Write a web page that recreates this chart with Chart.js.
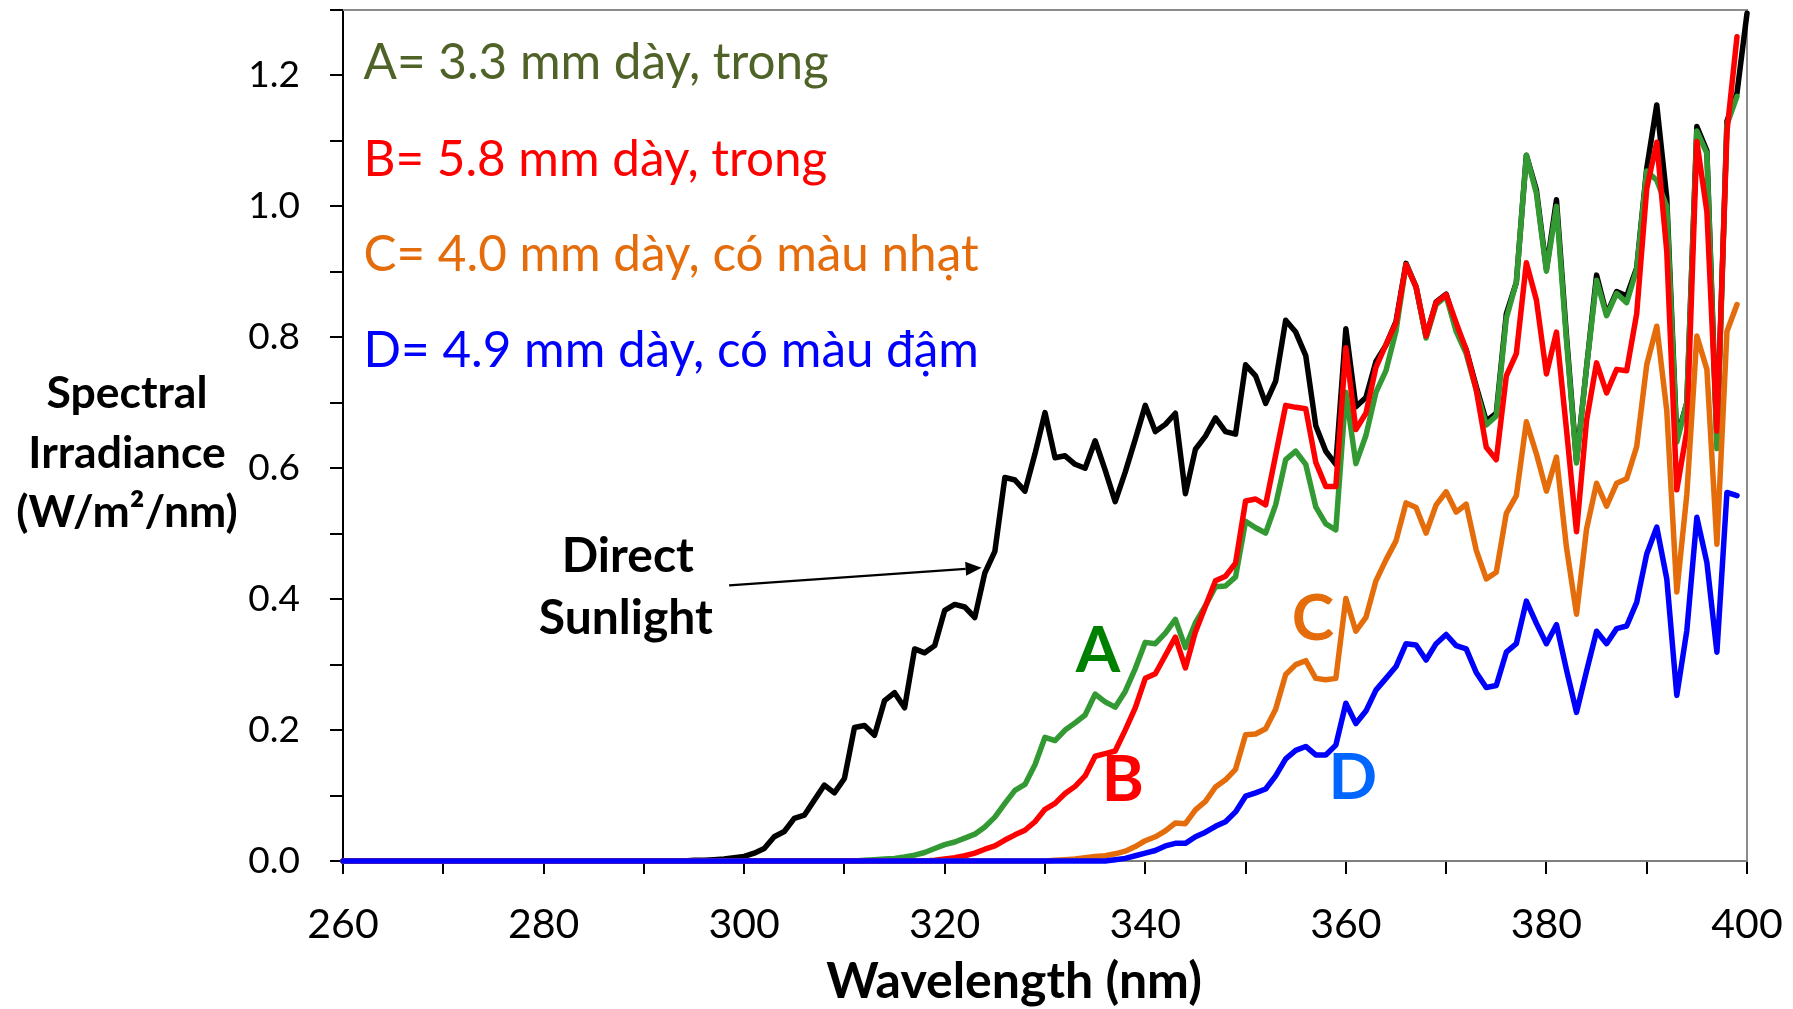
<!DOCTYPE html>
<html>
<head>
<meta charset="utf-8">
<title>Spectral Irradiance</title>
<script src="https://cdn.jsdelivr.net/npm/chart.js@4.4.0/dist/chart.umd.min.js"></script>
<style>
  html, body { margin: 0; padding: 0; background: #fff; }
  canvas { display: block; }
</style>
</head>
<body>
<canvas id="spectra" width="1793" height="1009"></canvas>
<script>
const wavelengths = [
  260, 261, 262, 263, 264, 265, 266, 267, 268, 269,
  270, 271, 272, 273, 274, 275, 276, 277, 278, 279,
  280, 281, 282, 283, 284, 285, 286, 287, 288, 289,
  290, 291, 292, 293, 294, 295, 296, 297, 298, 299,
  300, 301, 302, 303, 304, 305, 306, 307, 308, 309,
  310, 311, 312, 313, 314, 315, 316, 317, 318, 319,
  320, 321, 322, 323, 324, 325, 326, 327, 328, 329,
  330, 331, 332, 333, 334, 335, 336, 337, 338, 339,
  340, 341, 342, 343, 344, 345, 346, 347, 348, 349,
  350, 351, 352, 353, 354, 355, 356, 357, 358, 359,
  360, 361, 362, 363, 364, 365, 366, 367, 368, 369,
  370, 371, 372, 373, 374, 375, 376, 377, 378, 379,
  380, 381, 382, 383, 384, 385, 386, 387, 388, 389,
  390, 391, 392, 393, 394, 395, 396, 397, 398, 399,
  400
];

// direct sunlight
const sunlight = [
  0, 0, 0, 0, 0, 0, 0, 0, 0, 0,
  0, 0, 0, 0, 0, 0, 0, 0, 0, 0,
  0, 0, 0, 0, 0, 0, 0, 0, 0, 0,
  0, 0, 0, 0, 0, 0.001, 0.001, 0.002, 0.003, 0.005,
  0.007, 0.012, 0.019, 0.037, 0.045, 0.065, 0.070, 0.093, 0.116, 0.104,
  0.126, 0.204, 0.207, 0.192, 0.245, 0.257, 0.234, 0.324, 0.318, 0.329,
  0.383, 0.392, 0.388, 0.372, 0.440, 0.473, 0.586, 0.582, 0.565, 0.622,
  0.685, 0.616, 0.619, 0.606, 0.600, 0.642, 0.597, 0.549, 0.594, 0.644,
  0.696, 0.656, 0.667, 0.684, 0.561, 0.629, 0.649, 0.677, 0.656, 0.652,
  0.758, 0.741, 0.699, 0.733, 0.826, 0.808, 0.772, 0.665, 0.626, 0.606,
  0.813, 0.694, 0.708, 0.763, 0.788, 0.824, 0.913, 0.877, 0.801, 0.854,
  0.866, 0.816, 0.781, 0.725, 0.672, 0.684, 0.836, 0.884, 1.078, 1.025,
  0.904, 1.010, 0.802, 0.611, 0.754, 0.895, 0.835, 0.870, 0.863, 0.906,
  1.058, 1.155, 1.013, 0.645, 0.700, 1.122, 1.085, 0.640, 1.130, 1.173,
  1.295
];

// A = 3.3 mm clear
const glassA = [
  0, 0, 0, 0, 0, 0, 0, 0, 0, 0,
  0, 0, 0, 0, 0, 0, 0, 0, 0, 0,
  0, 0, 0, 0, 0, 0, 0, 0, 0, 0,
  0, 0, 0, 0, 0, 0, 0, 0, 0, 0,
  0, 0, 0, 0, 0, 0, 0, 0, 0, 0,
  0, 0, 0.001, 0.002, 0.003, 0.004, 0.006, 0.009, 0.013, 0.019,
  0.025, 0.029, 0.035, 0.041, 0.052, 0.067, 0.088, 0.108, 0.117, 0.147,
  0.189, 0.184, 0.200, 0.211, 0.223, 0.255, 0.243, 0.235, 0.259, 0.294,
  0.334, 0.332, 0.348, 0.369, 0.326, 0.364, 0.390, 0.419, 0.420, 0.434,
  0.519, 0.509, 0.501, 0.544, 0.613, 0.626, 0.606, 0.541, 0.515, 0.506,
  0.716, 0.607, 0.650, 0.716, 0.749, 0.810, 0.911, 0.877, 0.799, 0.850,
  0.863, 0.809, 0.775, 0.720, 0.666, 0.680, 0.829, 0.884, 1.078, 1.020,
  0.901, 1.000, 0.795, 0.608, 0.754, 0.887, 0.833, 0.867, 0.853, 0.904,
  1.054, 1.040, 1.000, 0.640, 0.700, 1.115, 1.081, 0.630, 1.125, 1.168,
  null
];

// B = 5.8 mm clear
const glassB = [
  0, 0, 0, 0, 0, 0, 0, 0, 0, 0,
  0, 0, 0, 0, 0, 0, 0, 0, 0, 0,
  0, 0, 0, 0, 0, 0, 0, 0, 0, 0,
  0, 0, 0, 0, 0, 0, 0, 0, 0, 0,
  0, 0, 0, 0, 0, 0, 0, 0, 0, 0,
  0, 0, 0, 0, 0, 0, 0, 0, 0, 0.001,
  0.003, 0.005, 0.008, 0.012, 0.018, 0.023, 0.032, 0.040, 0.047, 0.060,
  0.079, 0.088, 0.103, 0.114, 0.130, 0.160, 0.164, 0.168, 0.200, 0.234,
  0.279, 0.286, 0.314, 0.342, 0.295, 0.350, 0.389, 0.428, 0.435, 0.455,
  0.550, 0.553, 0.544, 0.620, 0.696, 0.693, 0.691, 0.609, 0.572, 0.572,
  0.784, 0.659, 0.684, 0.754, 0.789, 0.822, 0.911, 0.877, 0.802, 0.853,
  0.865, 0.822, 0.781, 0.720, 0.632, 0.613, 0.741, 0.775, 0.914, 0.857,
  0.744, 0.808, 0.659, 0.503, 0.673, 0.761, 0.715, 0.751, 0.749, 0.836,
  1.027, 1.098, 0.931, 0.567, 0.657, 1.099, 0.992, 0.657, 1.114, 1.259,
  null
];

// C = 4.0 mm light tint
const glassC = [
  0, 0, 0, 0, 0, 0, 0, 0, 0, 0,
  0, 0, 0, 0, 0, 0, 0, 0, 0, 0,
  0, 0, 0, 0, 0, 0, 0, 0, 0, 0,
  0, 0, 0, 0, 0, 0, 0, 0, 0, 0,
  0, 0, 0, 0, 0, 0, 0, 0, 0, 0,
  0, 0, 0, 0, 0, 0, 0, 0, 0, 0,
  0, 0, 0, 0, 0, 0, 0, 0, 0, 0,
  0, 0.001, 0.002, 0.003, 0.005, 0.007, 0.008, 0.011, 0.015, 0.022,
  0.031, 0.037, 0.046, 0.058, 0.057, 0.078, 0.091, 0.113, 0.124, 0.140,
  0.193, 0.194, 0.202, 0.232, 0.285, 0.300, 0.306, 0.279, 0.277, 0.279,
  0.401, 0.351, 0.372, 0.428, 0.460, 0.489, 0.547, 0.540, 0.501, 0.544,
  0.564, 0.533, 0.545, 0.475, 0.431, 0.441, 0.531, 0.558, 0.671, 0.622,
  0.565, 0.617, 0.479, 0.377, 0.507, 0.577, 0.542, 0.577, 0.584, 0.633,
  0.758, 0.817, 0.688, 0.411, 0.560, 0.802, 0.751, 0.484, 0.809, 0.850,
  null
];

// D = 4.9 mm dark tint
const glassD = [
  0, 0, 0, 0, 0, 0, 0, 0, 0, 0,
  0, 0, 0, 0, 0, 0, 0, 0, 0, 0,
  0, 0, 0, 0, 0, 0, 0, 0, 0, 0,
  0, 0, 0, 0, 0, 0, 0, 0, 0, 0,
  0, 0, 0, 0, 0, 0, 0, 0, 0, 0,
  0, 0, 0, 0, 0, 0, 0, 0, 0, 0,
  0, 0, 0, 0, 0, 0, 0, 0, 0, 0,
  0, 0, 0, 0, 0, 0, 0, 0.002, 0.004, 0.008,
  0.012, 0.016, 0.023, 0.027, 0.027, 0.037, 0.044, 0.053, 0.060, 0.075,
  0.099, 0.104, 0.110, 0.130, 0.156, 0.169, 0.175, 0.162, 0.162, 0.177,
  0.241, 0.210, 0.229, 0.261, 0.279, 0.297, 0.332, 0.330, 0.307, 0.332,
  0.346, 0.329, 0.324, 0.288, 0.265, 0.268, 0.319, 0.332, 0.397, 0.363,
  0.332, 0.361, 0.292, 0.227, 0.290, 0.351, 0.332, 0.355, 0.359, 0.395,
  0.469, 0.510, 0.431, 0.253, 0.352, 0.525, 0.456, 0.319, 0.563, 0.558,
  null
];

const noteLines = [
  'A= 3.3 mm dày, trong',
  'B= 5.8 mm dày, trong',
  'C= 4.0 mm dày, có màu nhạt',
  'D= 4.9 mm dày, có màu đậm'
];
const seriesLetters = ['A', 'B', 'C', 'D'];
const yTitleLines = ['Spectral', 'Irradiance', '(W/m²/nm)'];
const xTitle = 'Wavelength (nm)';
const sunLabel = ['Direct', 'Sunlight'];

const FONT = "Lato, 'Open Sans', sans-serif";

function toPoints(values) {
  return values.map((v, i) => ({ x: wavelengths[i], y: v }));
}

function lineSet(label, values, color, order) {
  return {
    label,
    data: toPoints(values),
    borderColor: color,
    backgroundColor: color,
    borderWidth: 5.5,
    pointRadius: 0,
    tension: 0,
    borderJoinStyle: 'round',
    borderCapStyle: 'round',
    clip: false,
    order,
  };
}

const overlay = {
  id: 'overlay',
  beforeDatasetsDraw(chart) {
    const { ctx, chartArea: a } = chart;
    ctx.save();
    ctx.strokeStyle = '#8c8c8c';
    ctx.lineWidth = 2;
    ctx.beginPath();
    ctx.moveTo(a.left, a.top);
    ctx.lineTo(a.right, a.top);
    ctx.lineTo(a.right, a.bottom);
    ctx.stroke();
    ctx.restore();
  },
  afterDatasetsDraw(chart) {
    const { ctx, scales: { x, y } } = chart;
    const px = (v) => x.getPixelForValue(v);
    const py = (v) => y.getPixelForValue(v);
    ctx.save();

    // notes in the upper left
    const noteColors = ['#4F6228', '#FF0000', '#E46C0A', '#0000FF'];
    const noteBase = [1.194, 1.047, 0.901, 0.755];
    ctx.font = `49.4px ${FONT}`;
    ctx.textAlign = 'left';
    ctx.textBaseline = 'alphabetic';
    noteLines.forEach((t, i) => {
      ctx.fillStyle = noteColors[i];
      ctx.fillText(t, px(262.05), py(noteBase[i]));
    });

    // series letters
    const letterColors = ['#008000', '#FF0000', '#E46C0A', '#0066FF'];
    const letterPos = [[335.27, 0.288], [337.77, 0.092], [356.71, 0.337], [360.7, 0.095]];
    ctx.font = `bold 64px ${FONT}`;
    ctx.textAlign = 'center';
    seriesLetters.forEach((t, i) => {
      ctx.fillStyle = letterColors[i];
      ctx.fillText(t, px(letterPos[i][0]), py(letterPos[i][1]));
    });

    // direct sunlight label + arrow
    ctx.fillStyle = '#000';
    ctx.font = `bold 48px ${FONT}`;
    ctx.fillText(sunLabel[0], px(288.4), py(0.441));
    ctx.fillText(sunLabel[1], px(288.2), py(0.347));

    const x0 = px(298.5), y0 = py(0.421);
    const x1 = px(323.68), y1 = py(0.448);
    const ang = Math.atan2(y1 - y0, x1 - x0);
    const head = 16, half = 7;
    ctx.strokeStyle = '#000';
    ctx.lineWidth = 2.2;
    ctx.beginPath();
    ctx.moveTo(x0, y0);
    ctx.lineTo(x1 - head * Math.cos(ang), y1 - head * Math.sin(ang));
    ctx.stroke();
    ctx.beginPath();
    ctx.moveTo(x1, y1);
    ctx.lineTo(x1 - head * Math.cos(ang) + half * Math.sin(ang), y1 - head * Math.sin(ang) - half * Math.cos(ang));
    ctx.lineTo(x1 - head * Math.cos(ang) - half * Math.sin(ang), y1 - head * Math.sin(ang) + half * Math.cos(ang));
    ctx.closePath();
    ctx.fill();

    // axis titles
    ctx.font = `bold 44.5px ${FONT}`;
    const yBase = [408, 468, 527];
    yTitleLines.forEach((t, i) => ctx.fillText(t, 127, yBase[i]));
    ctx.font = `bold 50px ${FONT}`;
    ctx.fillText(xTitle, 1014, 998);

    ctx.restore();
  }
};

new Chart(document.getElementById('spectra'), {
  type: 'line',
  data: {
    datasets: [
      lineSet('Direct Sunlight', sunlight, '#000000', 5),
      lineSet('A', glassA, '#339933', 4),
      lineSet('B', glassB, '#FF0000', 3),
      lineSet('C', glassC, '#E46C0A', 2),
      lineSet('D', glassD, '#0000FF', 1),
    ],
  },
  options: {
    responsive: false,
    devicePixelRatio: 1,
    animation: false,
    layout: { padding: { left: 0, top: 10, right: 46, bottom: 0 } },
    plugins: {
      legend: { display: false },
      title: { display: false },
      tooltip: { enabled: false },
    },
    scales: {
      x: {
        type: 'linear',
        min: 260,
        max: 400,
        border: { display: true, color: '#7f7f7f', width: 2 },
        grid: { drawOnChartArea: false, drawTicks: true, tickLength: 13, color: '#000', lineWidth: 2 },
        ticks: {
          stepSize: 10,
          padding: 26,
          color: '#000',
          font: { family: FONT, size: 41 },
          maxRotation: 0,
          autoSkip: false,
          callback: (v) => (v % 20 === 0 ? String(v) : ''),
        },
        afterFit(scale) {
          scale.height = 148;
          scale.paddingLeft = 0;
          scale.paddingRight = 0;
        },
      },
      y: {
        min: 0,
        max: 1.3,
        border: { display: true, color: '#000', width: 2 },
        grid: { drawOnChartArea: false, drawTicks: true, tickLength: 13, color: '#000', lineWidth: 2 },
        ticks: {
          stepSize: 0.1,
          padding: 30,
          color: '#000',
          font: { family: FONT, size: 37 },
          autoSkip: false,
          callback: (v) => (Math.round(v * 10) % 2 === 0 ? v.toFixed(1) : ''),
        },
        afterFit(scale) {
          scale.width = 343;
          scale.paddingTop = 0;
          scale.paddingBottom = 0;
        },
      },
    },
  },
  plugins: [overlay],
});
</script>
</body>
</html>
